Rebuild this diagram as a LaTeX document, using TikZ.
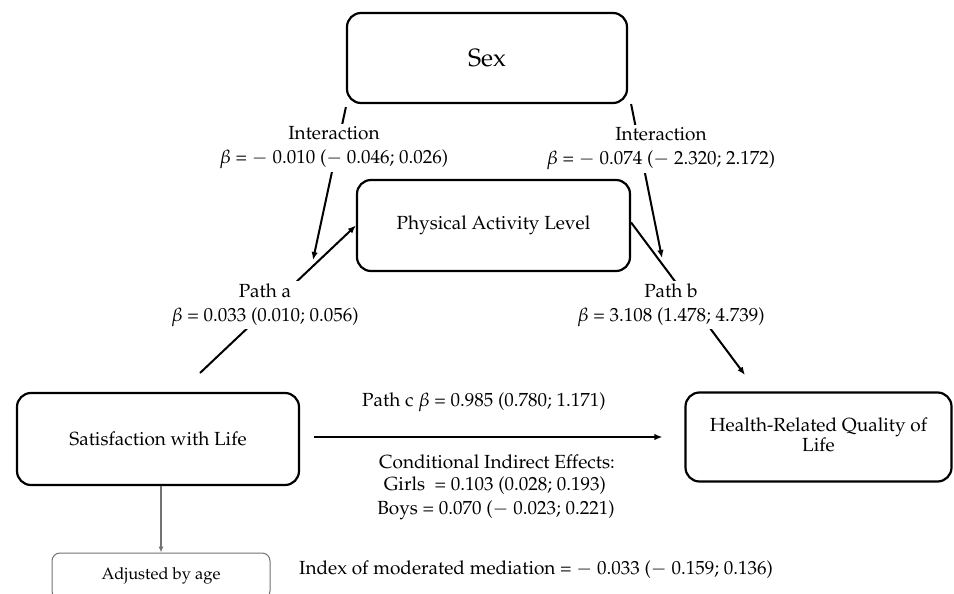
\documentclass[tikz,border=0pt]{standalone}
\usepackage[T1]{fontenc}
\usepackage{mathpazo}
\usetikzlibrary{arrows.meta}
\begin{document}
\begin{tikzpicture}[x=1pt,y=-1pt,
  every node/.style={font=\fontsize{19}{24}\selectfont, inner sep=2pt},
  box/.style={draw, line width=2.2pt, rounded corners=14pt, align=center},
  lbl/.style={fill=white, align=center, inner sep=2.5pt},
  arr/.style={line width=2pt, -{Latex[length=8pt,width=6.5pt]}},
  thinarr/.style={line width=1.1pt, draw=black!55, -{Latex[length=6pt,width=5pt]}},
  ]
\clip (0,0) rectangle (954,594);
\fill[white] (0,0) rectangle (954,594);
% boxes
\node[box, minimum width=280pt, minimum height=90pt, font=\fontsize{25}{30}\selectfont] (sex) at (487,58) {Sex};
\node[box, minimum width=273pt, minimum height=91pt] (pa) at (493.5,225.5) {Physical Activity Level};
\node[box, minimum width=282pt, minimum height=92pt] (swl) at (158,439) {Satisfaction with Life};
\node[box, minimum width=266pt, minimum height=89pt, font=\fontsize{19}{20}\selectfont] (hrq) at (818.5,437) {\raisebox{-5pt}{\begin{tabular}{@{}c@{}}Health-Related Quality of\\Life\end{tabular}}};
\node[draw=black!55, line width=1pt, rounded corners=8pt, minimum width=218pt, minimum height=46pt, font=\fontsize{16.5}{20}\selectfont] (adj) at (161,576) {Adjusted by age};
% free ends
\coordinate (ilE) at (313,260);
\coordinate (irE) at (662,258);
\coordinate (paS) at (200,373);
\coordinate (pbE) at (745,375);
\coordinate (pcS) at ([xshift=14pt]swl.east);
% connectors
\draw[arr] ([yshift=-3pt]sex.south west) -- (ilE);
\draw[arr] ([xshift=3pt]sex.south east) -- (irE);
\draw[arr] (paS) -- (pa.west);
\draw[arr] ([yshift=3pt]pa.east) -- (pbE);
\draw[arr] (pcS |- hrq.west) -- ([xshift=-22pt]hrq.west);
\draw[thinarr] (swl.south -| adj.north) -- (adj.north);
% labels
\node[lbl] (il) at (334,148) {Interaction\\\(\beta\) = \(-\) 0.010 (\(-\) 0.046; 0.026)};
\node[lbl] (ir) at (661,149) {Interaction\\\(\beta\) = \(-\) 0.074 (\(-\) 2.320; 2.172)};
\node[lbl] (la) at (265,305) {Path a\\\(\beta\) = 0.033 (0.010; 0.056)};
\node[lbl] (lb) at (671,305) {Path b\\\(\beta\) = 3.108 (1.478; 4.739)};
\node (lc) at (484,402) {Path c \(\beta\) = 0.985 (0.780; 1.171)};
\node (cie) at (497,462) {Conditional Indirect Effects:};
\node (girls) at (495,486) {Girls \ = 0.103 (0.028; 0.193)};
\node (boys) at (496,510) {Boys = 0.070 (\(-\) 0.023; 0.221)};
\node (imm) at (536,570) {Index of moderated mediation = \(-\) 0.033 (\(-\) 0.159; 0.136)};
\end{tikzpicture}
\end{document}
